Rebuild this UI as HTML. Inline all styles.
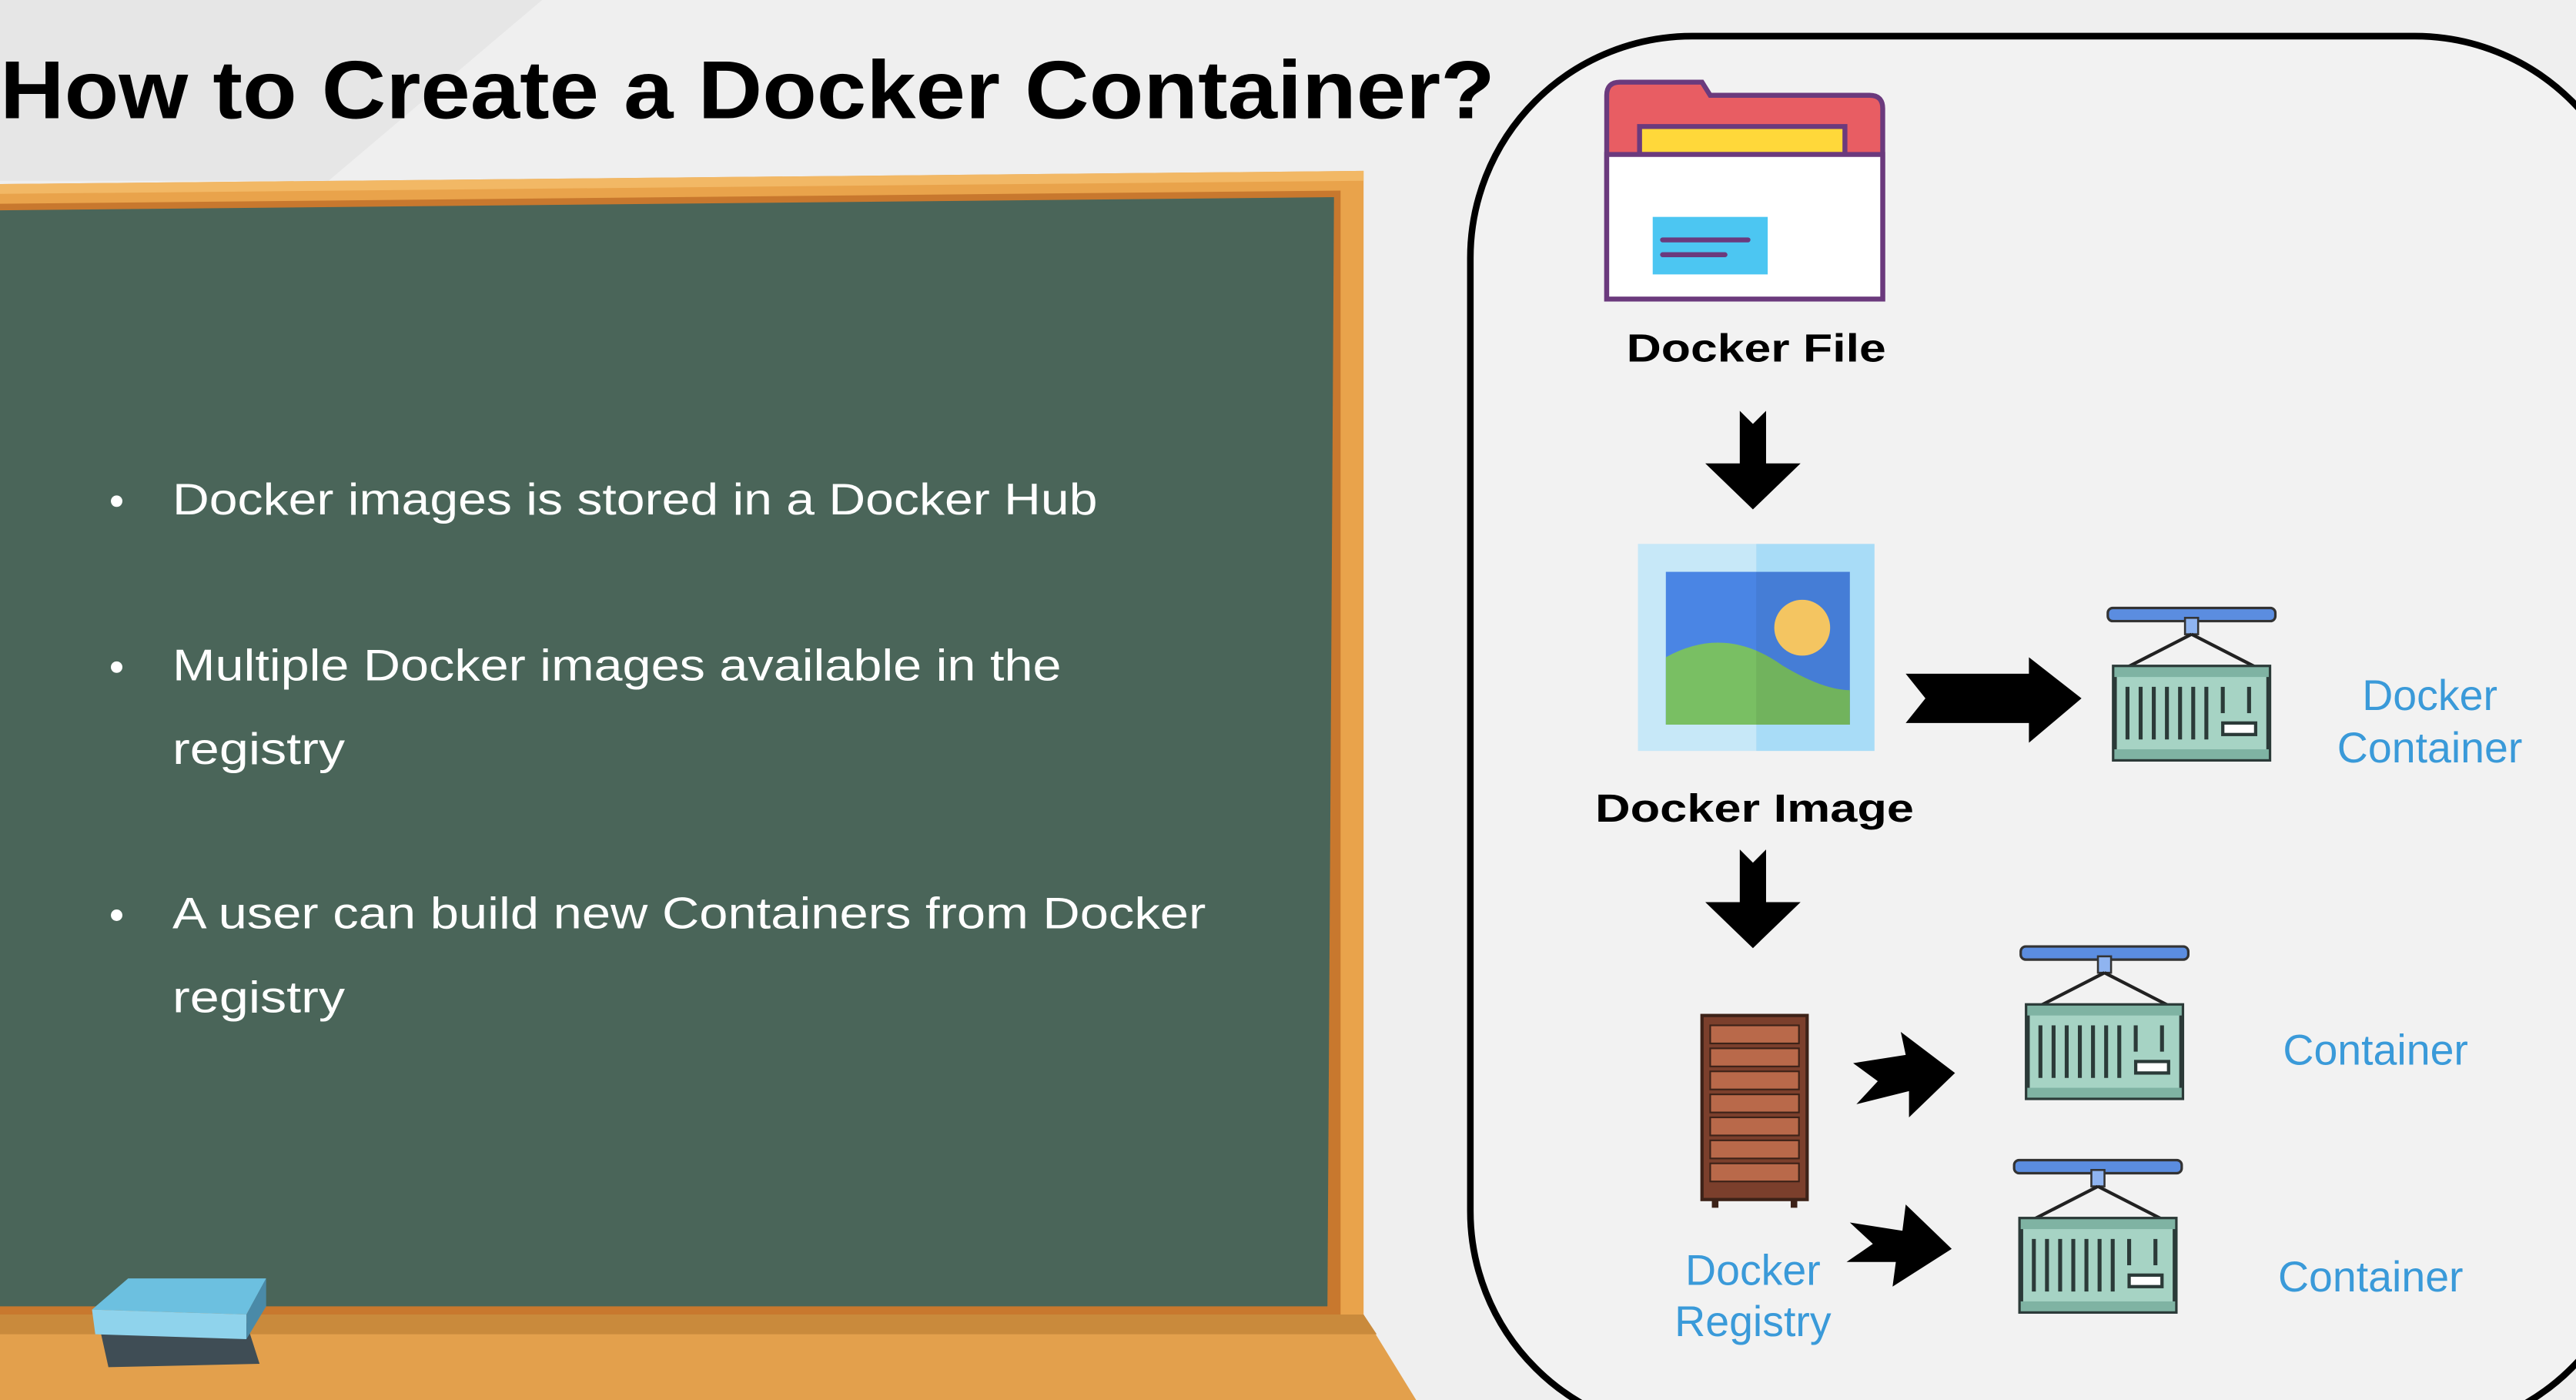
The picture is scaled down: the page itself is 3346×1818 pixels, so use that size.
<!DOCTYPE html>
<html><head><meta charset="utf-8"><style>
html,body{margin:0;padding:0;background:#efefef;overflow:hidden;width:3346px;height:1818px}
svg{display:block}
text{font-family:"Liberation Sans",sans-serif}
</style></head><body>
<svg width="3346" height="1818" viewBox="0 0 1568 852" preserveAspectRatio="none" xmlns="http://www.w3.org/2000/svg">
<defs>
<clipPath id="clip"><rect width="1568" height="852"/></clipPath>
<g id="cont">
  <rect x="0" y="0" width="102" height="8" rx="3" fill="#5b8de0" stroke="#333" stroke-width="1.5"/>
  <rect x="47" y="6" width="8" height="10" fill="#8fb4f0" stroke="#333" stroke-width="1.2"/>
  <path d="M51 16 L8 38 M51 16 L94 38" stroke="#222" stroke-width="2" fill="none"/>
  <rect x="4" y="36" width="94" height="56" fill="#a6d3c4" stroke="#2b3a38" stroke-width="3"/>
  <rect x="4" y="36" width="94" height="6" fill="#7fb3a3"/>
  <rect x="4" y="86" width="94" height="6" fill="#7fb3a3"/>
  <g stroke="#2b3a38" stroke-width="2.4">
    <line x1="12" y1="48" x2="12" y2="80"/><line x1="20" y1="48" x2="20" y2="80"/><line x1="28" y1="48" x2="28" y2="80"/>
    <line x1="36" y1="48" x2="36" y2="80"/><line x1="44" y1="48" x2="44" y2="80"/><line x1="52" y1="48" x2="52" y2="80"/>
    <line x1="60" y1="48" x2="60" y2="80"/><line x1="70" y1="48" x2="70" y2="64"/><line x1="86" y1="48" x2="86" y2="64"/>
  </g>
  <rect x="70" y="70" width="20" height="7" fill="#fff" stroke="#2b3a38" stroke-width="2"/>
</g>
<path id="darr" d="M-8 0 L0 8 L8 0 L8 32 L29 32 L0 60 L-29 32 L-8 32 Z" fill="#000"/>
</defs>
<g clip-path="url(#clip)">
<rect width="1568" height="852" fill="#efefef"/>
<path d="M0 0 L330 0 L200 110 L0 110 Z" fill="#e6e6e6"/>
<!-- title -->
<text x="0" y="72" font-size="50" font-weight="bold" fill="#000" textLength="910" lengthAdjust="spacingAndGlyphs">How to Create a Docker Container?</text>
<!-- board -->
<path d="M0 112 L830 104 L830 812 L0 812 Z" fill="#e9a34b"/>
<path d="M0 112 L830 104 L830 110 L0 118 Z" fill="#f2b865"/>
<path d="M0 124 L816 116 L816 800 L0 800 Z" fill="#c8782e"/>
<path d="M0 128 L812 120 L808 795 L0 795 Z" fill="#4a6559"/>
<path d="M0 800 L830 800 L862 852 L0 852 Z" fill="#e3a04c"/>
<path d="M0 800 L830 800 L838 812 L0 812 Z" fill="#c98a3c"/>
<!-- eraser -->
<path d="M60 805 L150 805 L158 830 L66 832 Z" fill="#3f4d55"/>
<path d="M56 797 L78 778 L162 778 L150 800 Z" fill="#6cc0e0"/>
<path d="M56 797 L150 800 L150 815 L58 812 Z" fill="#8fd3ec"/>
<path d="M150 800 L162 778 L162 795 L150 815 Z" fill="#4a8aa8"/>
<!-- bullets -->
<g fill="#fff" font-size="27">
  <circle cx="71" cy="305" r="3.5"/><circle cx="71" cy="406" r="3.5"/><circle cx="71" cy="557" r="3.5"/>
  <text x="105" y="313" textLength="563" lengthAdjust="spacingAndGlyphs">Docker images is stored in a Docker Hub</text>
  <text x="105" y="414" textLength="541" lengthAdjust="spacingAndGlyphs">Multiple Docker images available in the</text>
  <text x="105" y="465" textLength="105" lengthAdjust="spacingAndGlyphs">registry</text>
  <text x="105" y="565" textLength="629" lengthAdjust="spacingAndGlyphs">A user can build new Containers from Docker</text>
  <text x="105" y="616" textLength="105" lengthAdjust="spacingAndGlyphs">registry</text>
</g>
<!-- right panel -->
<rect x="895" y="22" width="710" height="850" rx="135" fill="#f4f4f4" fill-opacity="0.6" stroke="#000" stroke-width="4"/>
<!-- folder -->
<path d="M978 58 Q978 50 986 50 L1036 50 L1041 58 L1138 58 Q1146 58 1146 66 L1146 182 L978 182 Z" fill="#e85d63" stroke="#6b3a7d" stroke-width="3"/>
<rect x="998" y="77" width="125" height="17" fill="#ffd83a" stroke="#6b3a7d" stroke-width="3"/>
<rect x="978" y="94" width="168" height="88" fill="#fff" stroke="#6b3a7d" stroke-width="3"/>
<rect x="1006" y="132" width="70" height="35" fill="#4cc6f2"/>
<line x1="1012" y1="146" x2="1064" y2="146" stroke="#6b3a7d" stroke-width="3" stroke-linecap="round"/>
<line x1="1012" y1="155" x2="1050" y2="155" stroke="#6b3a7d" stroke-width="3" stroke-linecap="round"/>
<text x="1069" y="220" font-size="24" font-weight="bold" text-anchor="middle" textLength="158" lengthAdjust="spacingAndGlyphs">Docker File</text>
<use href="#darr" x="1067" y="250"/>
<!-- image icon -->
<rect x="997" y="331" width="72" height="126" fill="#c7e8f8"/>
<rect x="1069" y="331" width="72" height="126" fill="#a8dcf7"/>
<rect x="1014" y="348" width="112" height="93" fill="#4a85e4"/>
<path d="M1014 400 Q1050 380 1085 405 Q1110 420 1126 420 L1126 441 L1014 441 Z" fill="#79bf63"/>
<path d="M1069 348 L1126 348 L1126 441 L1069 441 Z" fill="#000" fill-opacity="0.06"/>
<circle cx="1097" cy="382" r="17" fill="#f4c561"/>
<text x="1068" y="500" font-size="24" font-weight="bold" text-anchor="middle" textLength="194" lengthAdjust="spacingAndGlyphs">Docker Image</text>
<use href="#darr" x="1067" y="517"/>
<!-- right arrow -->
<path d="M1160 410 L1235 410 L1235 400 L1267 425 L1235 452 L1235 440 L1160 440 L1172 425 Z" fill="#000"/>
<use href="#cont" x="1283" y="370"/>
<g fill="#3a9ad9" font-size="26" text-anchor="middle">
  <text x="1479" y="432">Docker</text>
  <text x="1479" y="464">Container</text>
  <text x="1446" y="648">Container</text>
  <text x="1443" y="786">Container</text>
  <text x="1067" y="782">Docker</text>
  <text x="1067" y="813">Registry</text>
</g>
<!-- server -->
<rect x="1036" y="618" width="64" height="112" fill="#7b3f2c" stroke="#3d2218" stroke-width="2"/>
<g fill="#b9694a" stroke="#3d2218" stroke-width="1">
  <rect x="1041" y="624" width="54" height="11"/><rect x="1041" y="638" width="54" height="11"/>
  <rect x="1041" y="652" width="54" height="11"/><rect x="1041" y="666" width="54" height="11"/>
  <rect x="1041" y="680" width="54" height="11"/><rect x="1041" y="694" width="54" height="11"/>
  <rect x="1041" y="708" width="54" height="11"/>
</g>
<rect x="1042" y="730" width="4" height="5" fill="#3d2218"/><rect x="1090" y="730" width="4" height="5" fill="#3d2218"/>
<!-- small arrows -->
<path d="M1128 647 L1160 642 L1157 628 L1190 653 L1162 680 L1162 664 L1130 672 L1143 658 Z" fill="#000"/>
<path d="M1126 744 L1158 749 L1160 733 L1188 760 L1152 783 L1154 768 L1124 768 L1140 757 Z" fill="#000"/>
<use href="#cont" x="1230" y="576"/>
<use href="#cont" x="1226" y="706"/>
</g>
</svg>
</body></html>
